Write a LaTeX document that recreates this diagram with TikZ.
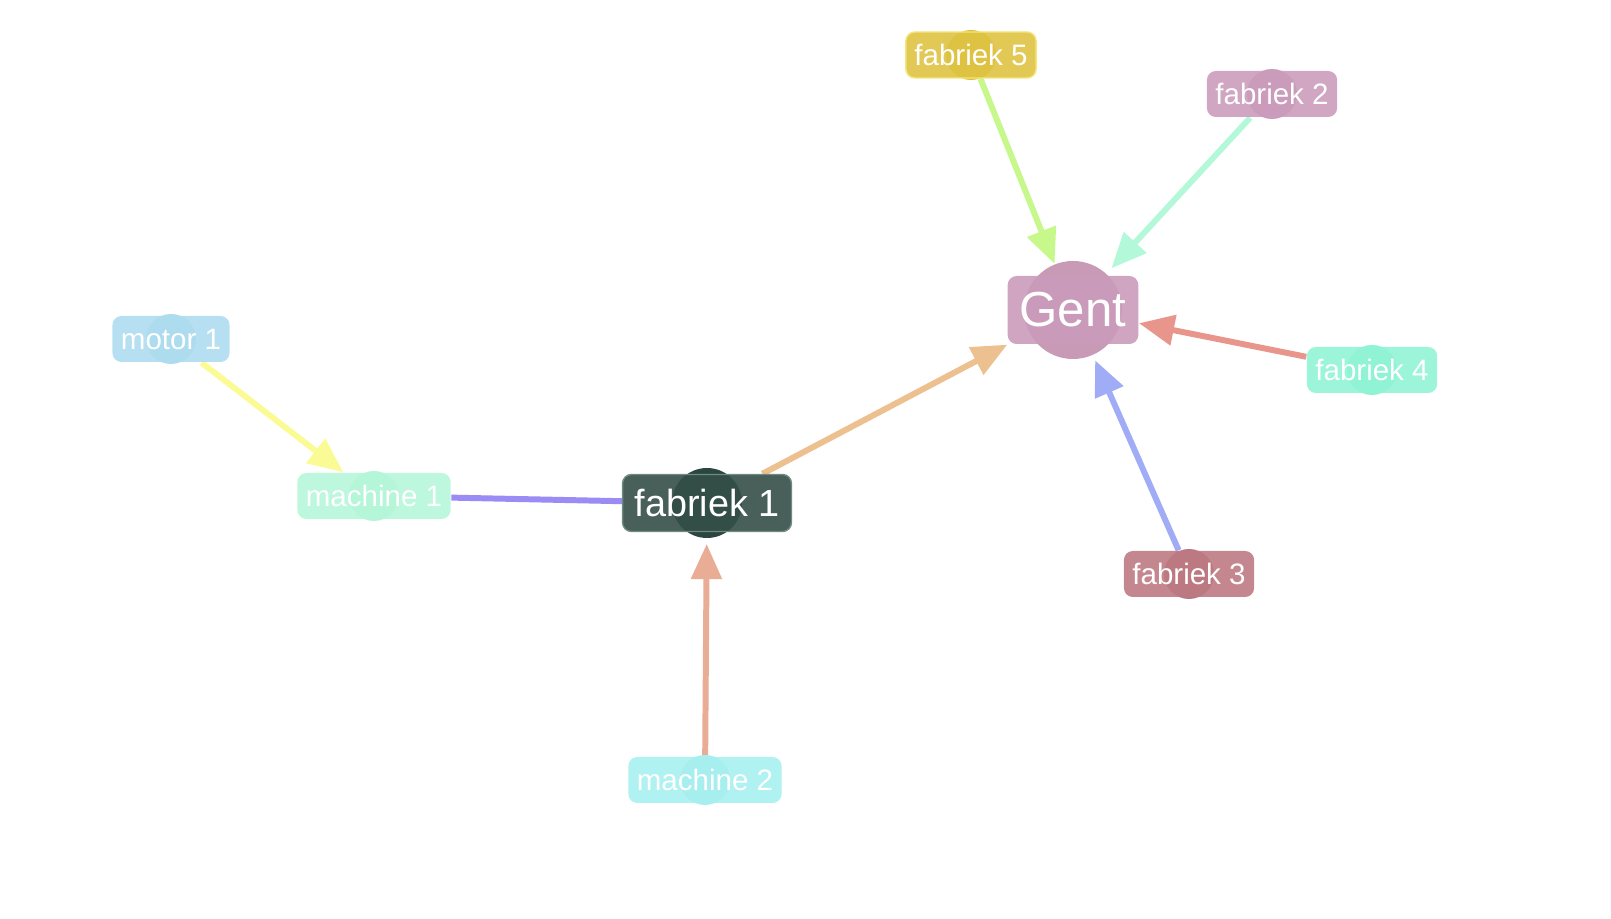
\documentclass[tikz,border=0pt]{standalone}
\usepackage{fontspec}
\setmainfont{Liberation Sans}
\usepackage{tikz}
\usetikzlibrary{shapes,positioning,arrows.meta,calc}
\pgfdeclarelayer{background}
\pgfsetlayers{background,main}

\definecolor{fOneBox}{HTML}{344E48}
\definecolor{fOneDot}{HTML}{2B463F}
\definecolor{fOneLine}{HTML}{6E8A81}
\definecolor{gentBox}{HTML}{CA9BBA}
\definecolor{gentDot}{HTML}{C89AB6}
\definecolor{motorBox}{HTML}{AEDDEF}
\definecolor{motorDot}{HTML}{ADDCEF}
\definecolor{mOneBox}{HTML}{B6F7DA}
\definecolor{mOneDot}{HTML}{B5F5D9}
\definecolor{mTwoBox}{HTML}{A7EFF0}
\definecolor{mTwoDot}{HTML}{A7EEEF}
\definecolor{fFiveBox}{HTML}{DFC343}
\definecolor{fFiveDot}{HTML}{DCBE3C}
\definecolor{fFiveLine}{HTML}{F5E67A}
\definecolor{fTwoBox}{HTML}{CB9CBC}
\definecolor{fTwoDot}{HTML}{C99AB9}
\definecolor{fFourBox}{HTML}{91F4D4}
\definecolor{fFourDot}{HTML}{8FF3D2}
\definecolor{fThreeBox}{HTML}{BE7A83}
\definecolor{fThreeDot}{HTML}{BA7781}

\definecolor{eYellow}{HTML}{FBFB96}
\definecolor{ePurple}{HTML}{9B8BF4}
\definecolor{eSalmon}{HTML}{E9AC94}
\definecolor{eTan}{HTML}{ECC08F}
\definecolor{eGreen}{HTML}{C6F88C}
\definecolor{eMint}{HTML}{B4F8DA}
\definecolor{eRed}{HTML}{E8958B}
\definecolor{eBlue}{HTML}{A1ACF6}

\begin{document}
\begin{tikzpicture}
	\tikzset{>={Triangle[length=10pt,width=8.5pt]}}
	\tikzset{
		dot/.style={circle, inner sep=0pt, minimum size=0.50cm},
		tag/.style={rectangle, rounded corners=0.09cm, fill opacity=0.9, text opacity=1,
			text=white, minimum height=0.46cm, inner xsep=0.085cm, inner ysep=0pt,
			font=\fontsize{8.4pt}{10pt}\selectfont},
		link/.style={line width=1.7pt}
	}
	\useasboundingbox (0,0) rectangle (16.11,-9.19);

	% hubs
	\node[dot, fill=gentDot, minimum size=0.98cm] (gentdot) at (10.73,-3.10) {};
	\node[tag, fill=gentBox, minimum height=0.68cm, inner xsep=0.12cm,
		font=\fontsize{14pt}{16pt}\selectfont] (gent) at (gentdot) {Gent};
	\node[dot, fill=fOneDot, minimum size=0.70cm] (f1dot) at (7.07,-5.03) {};
	\node[tag, fill=fOneBox, draw=fOneLine, minimum height=0.57cm, inner xsep=0.12cm,
		font=\fontsize{10.75pt}{13pt}\selectfont] (f1) at (f1dot) {fabriek 1};

	% machines
	\node[dot, fill=motorDot] (motordot) at (1.71,-3.39) {};
	\node[tag, fill=motorBox] (motor) at (motordot) {motor 1};
	\node[dot, fill=mOneDot] (m1dot) at (3.74,-4.96) {};
	\node[tag, fill=mOneBox] (m1) at (m1dot) {machine 1};
	\node[dot, fill=mTwoDot] (m2dot) at (7.05,-7.80) {};
	\node[tag, fill=mTwoBox] (m2) at (m2dot) {machine 2};

	% other factories
	\node[dot, fill=fFiveDot] (f5dot) at (9.71,-0.55) {};
	\node[tag, fill=fFiveBox, draw=fFiveLine] (f5) at (f5dot) {fabriek 5};
	\node[dot, fill=fTwoDot] (f2dot) at (12.72,-0.94) {};
	\node[tag, fill=fTwoBox] (f2) at (f2dot) {fabriek 2};
	\node[dot, fill=fFourDot] (f4dot) at (13.72,-3.70) {};
	\node[tag, fill=fFourBox] (f4) at (f4dot) {fabriek 4};
	\node[dot, fill=fThreeDot] (f3dot) at (11.89,-5.74) {};
	\node[tag, fill=fThreeBox] (f3) at (f3dot) {fabriek 3};

	\begin{pgfonlayer}{background}
		\draw[link, eYellow, ->] (motor) -- (m1);
		\draw[link, ePurple] (m1) -- (f1);
		\draw[link, eSalmon, ->, shorten >=1.5pt] (m2) -- (f1dot);
		\draw[link, eTan, ->] (f1) -- (gent);
		\draw[link, eGreen, ->] (f5) -- (gentdot);
		\draw[link, eMint, ->, shorten >=2pt] (f2) -- (gentdot);
		\draw[link, eRed, ->] (f4) -- (gent);
		\draw[link, eBlue, ->, shorten >=1.5pt] (f3) -- (gentdot);
	\end{pgfonlayer}
\end{tikzpicture}
\end{document}
